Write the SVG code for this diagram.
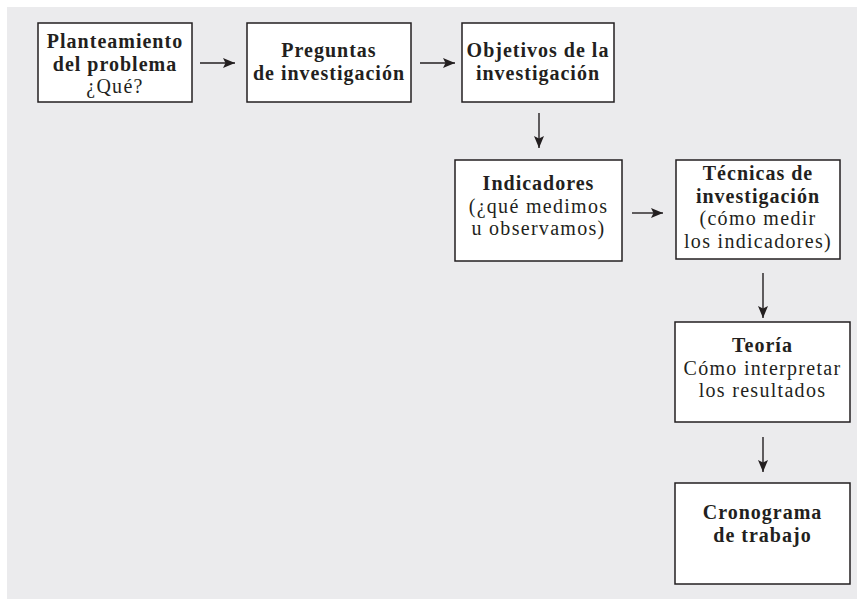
<svg xmlns="http://www.w3.org/2000/svg" width="857" height="606" viewBox="0 0 857 606">
<style>
.box{fill:#fff;stroke:#231f20;stroke-width:1.5}
text{font-family:"Liberation Serif","Times New Roman",serif;font-size:20px;letter-spacing:1.3px;fill:#231f20;text-anchor:middle}
.b{font-weight:bold;letter-spacing:1px}
.c{stroke:#231f20;stroke-width:1.4;fill:none}
</style>
<defs>
<marker id="ah" viewBox="0 0 12 10" refX="12" refY="5" markerWidth="12" markerHeight="10" markerUnits="userSpaceOnUse" orient="auto">
<path d="M0,0 L12,5 L0,10 L2.5,5 z" fill="#231f20"/>
</marker>
</defs>
<rect x="0" y="0" width="857" height="606" fill="#fff"/>
<rect x="7" y="7" width="850" height="592" fill="#ebebed"/>
<g id="n1"><rect class="box" x="38" y="23" width="154" height="79"/>
<text x="115" y="48" class="b">Planteamiento</text>
<text x="115" y="70.5" class="b">del problema</text>
<text x="115" y="93">¿Qué?</text></g>
<g id="n2"><rect class="box" x="247" y="23" width="164" height="79"/>
<text x="329" y="57" class="b">Preguntas</text>
<text x="329" y="79.5" class="b">de investigación</text></g>
<g id="n3"><rect class="box" x="462" y="23" width="152" height="79"/>
<text x="538" y="57" class="b">Objetivos de la</text>
<text x="538" y="79.5" class="b">investigación</text></g>
<g id="n4"><rect class="box" x="455" y="160" width="167" height="101"/>
<text x="538.5" y="190" class="b">Indicadores</text>
<text x="538.5" y="212.5">(¿qué medimos</text>
<text x="538.5" y="235">u observamos)</text></g>
<g id="n5"><rect class="box" x="676" y="160" width="164" height="99"/>
<text x="758" y="180" class="b">Técnicas de</text>
<text x="758" y="202.5" class="b">investigación</text>
<text x="758" y="225">(cómo medir</text>
<text x="758" y="247.5">los indicadores)</text></g>
<g id="n6"><rect class="box" x="675" y="322" width="175" height="100"/>
<text x="762.5" y="352" class="b">Teoría</text>
<text x="762.5" y="374.5">Cómo interpretar</text>
<text x="762.5" y="397">los resultados</text></g>
<g id="n7"><rect class="box" x="675" y="483" width="175" height="101"/>
<text x="762.5" y="519" class="b">Cronograma</text>
<text x="762.5" y="541.5" class="b">de trabajo</text></g>
<g id="connectors">
<line class="c" x1="200" y1="63" x2="235" y2="63" marker-end="url(#ah)"/>
<line class="c" x1="420" y1="63" x2="455" y2="63" marker-end="url(#ah)"/>
<line class="c" x1="539" y1="113" x2="539" y2="148" marker-end="url(#ah)"/>
<line class="c" x1="632" y1="213" x2="663" y2="213" marker-end="url(#ah)"/>
<line class="c" x1="763" y1="273" x2="763" y2="318" marker-end="url(#ah)"/>
<line class="c" x1="763" y1="437" x2="763" y2="472" marker-end="url(#ah)"/>
</g>
</svg>
